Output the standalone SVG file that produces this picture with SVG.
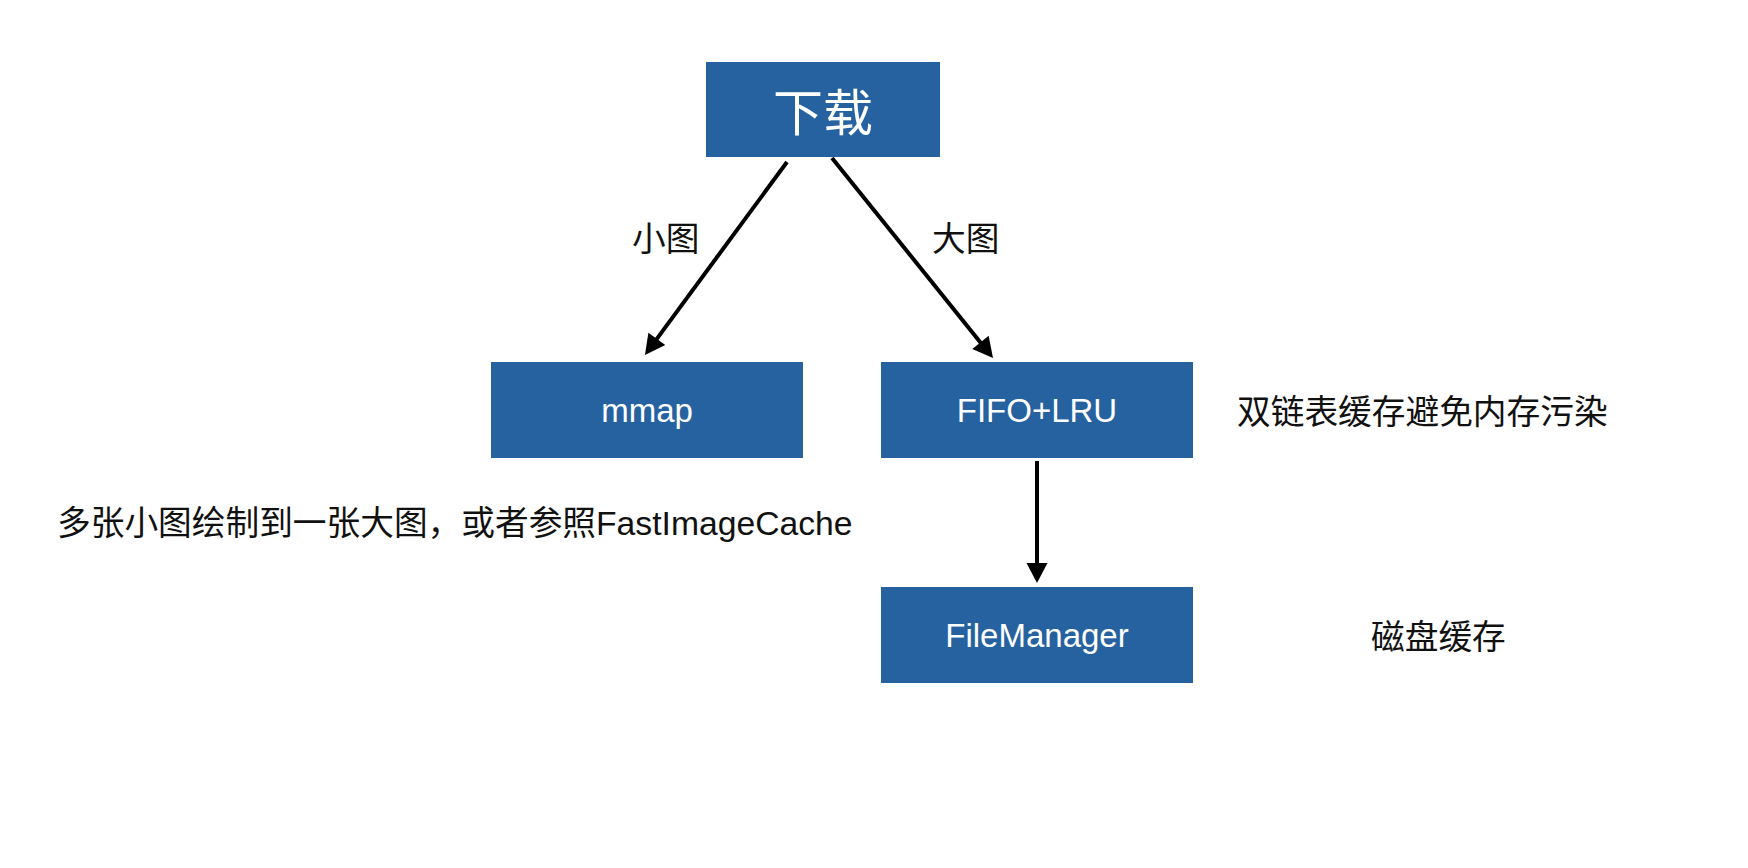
<svg xmlns="http://www.w3.org/2000/svg" width="1748" height="868" viewBox="0 0 1748 868">
  <style>
    .box { fill: #2662a0; }
    .btxt { fill: #ffffff; font-family: "Liberation Sans", "Noto Sans CJK SC", sans-serif; font-size: 33px; text-anchor: middle; }
    .txt { fill: #111111; font-family: "Liberation Sans", "Noto Sans CJK SC", sans-serif; font-size: 33.7px; }
    .conn { stroke: #000000; stroke-width: 4; fill: none; marker-end: url(#arrow); }
  </style>
  <defs>
    <marker id="arrow" markerUnits="userSpaceOnUse" markerWidth="20" markerHeight="21" refX="9" refY="10.5" orient="auto" overflow="visible">
      <path d="M0,0 L20,10.5 L0,21 Z" fill="#000000"/>
    </marker>
  </defs>
  <rect width="1748" height="868" fill="#ffffff"/>

  <g id="connectors">
    <path class="conn" d="M787,162 L651.5,346.1"/>
    <path class="conn" d="M832,158 L986.1,349.4"/>
    <path class="conn" d="M1037,461 L1037,572"/>
    <text class="txt" x="632" y="251">小图</text>
    <text class="txt" x="932" y="251">大图</text>
  </g>

  <g id="node-download">
    <rect class="box" x="706" y="62" width="234" height="95"/>
    <text class="btxt" x="823" y="131" style="font-size:50px">下载</text>
  </g>

  <g id="node-mmap">
    <rect class="box" x="491" y="362" width="312" height="96"/>
    <text class="btxt" x="647" y="422">mmap</text>
  </g>

  <g id="node-fifo">
    <rect class="box" x="881" y="362" width="312" height="96"/>
    <text class="btxt" x="1037" y="422">FIFO+LRU</text>
  </g>

  <g id="node-filemanager">
    <rect class="box" x="881" y="587" width="312" height="96"/>
    <text class="btxt" x="1037" y="647">FileManager</text>
  </g>

  <g id="notes">
    <text class="txt" x="57" y="535">多张小图绘制到一张大图，或者参照FastImageCache</text>
    <text class="txt" x="1237" y="424">双链表缓存避免内存污染</text>
    <text class="txt" x="1371" y="649">磁盘缓存</text>
  </g>
</svg>
